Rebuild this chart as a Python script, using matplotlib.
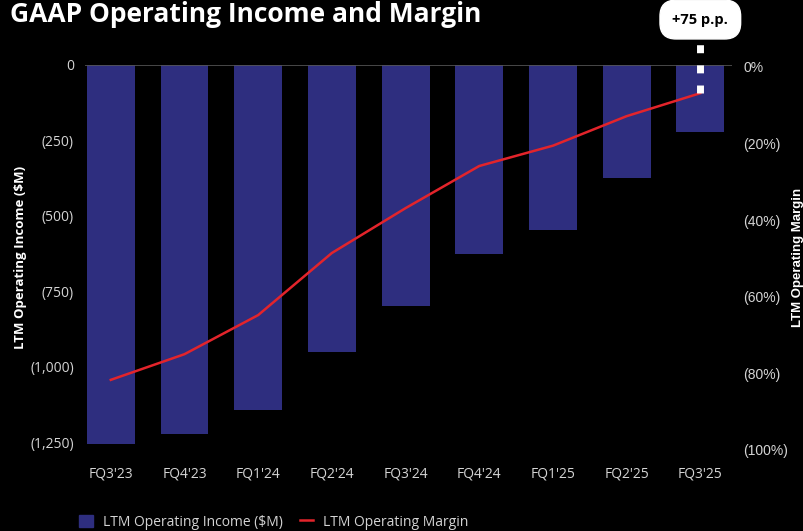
import matplotlib
matplotlib.use('Agg')
import matplotlib.pyplot as plt
from matplotlib.patches import Patch
from matplotlib.lines import Line2D
from matplotlib.ticker import FuncFormatter

plt.rcParams['font.family'] = ['Open Sans', 'DejaVu Sans']

quarters = ["FQ3'23", "FQ4'23", "FQ1'24", "FQ2'24", "FQ3'24", "FQ4'24", "FQ1'25", "FQ2'25", "FQ3'25"]
op_income = [-1254, -1221, -1141, -950, -798, -626, -546, -373, -222]   # $M, LTM
op_margin = [-81.7, -75.0, -64.8, -48.6, -36.9, -25.9, -20.6, -12.9, -6.9]  # %, LTM
margin_gain_label = '+75 p.p.'

navy = '#2e2e7f'
red = '#e3242b'
grey = '#d4d4d4'

fig = plt.figure(figsize=(8.04, 5.31), dpi=100, facecolor='black')
ax = fig.add_axes([85 / 804, 81 / 531, 647 / 804, 385 / 531])
ax.set_facecolor('black')
ax2 = ax.twinx()

x = range(len(quarters))
ax.bar(x, op_income, width=0.65, color=navy, zorder=2)
ax.axhline(0, color='#555555', lw=1.2, zorder=3)
ax.set_xlim(-0.35, 8.43)
ax.set_ylim(-1275, 0)
ax.set_yticks([0, -250, -500, -750, -1000, -1250])
ax.yaxis.set_major_formatter(FuncFormatter(lambda v, p: '0' if v == 0 else f'({abs(v):,.0f})'))
ax.set_xticks(list(x))
ax.set_xticklabels(quarters)
ax.tick_params(axis='both', length=0, colors=grey, labelsize=10)
ax.tick_params(axis='x', pad=12)
ax.tick_params(axis='y', pad=8)
ax.set_ylabel('LTM Operating Income ($M)', color='white', fontsize=9.5, fontweight='bold', labelpad=2)

ax2.plot(x, op_margin, color=red, lw=1.8, zorder=4)
ax2.set_ylim(-100, 0.45)
ax2.set_yticks([0, -20, -40, -60, -80, -100])
ax2.yaxis.set_major_formatter(FuncFormatter(lambda v, p: '0%' if v == 0 else f'({abs(v):.0f}%)'))
ax2.tick_params(axis='y', length=0, colors=grey, labelsize=10, pad=8)
for lbl in ax2.get_yticklabels():
    lbl.set_family(['Liberation Sans', 'DejaVu Sans'])
ax2.set_ylabel('LTM Operating Margin', color='white', fontsize=9.5, fontweight='bold',
               family=['Liberation Sans', 'DejaVu Sans'], labelpad=3)

for a in (ax, ax2):
    for s in a.spines.values():
        s.set_visible(False)

# dashed leader from the latest margin point up to the callout
last = len(quarters) - 1
ax2.plot([last, last], [op_margin[-1], 6.5], color='white', lw=5, dashes=(1.15, 1.75),
         dash_capstyle='butt', clip_on=False, zorder=5)
ax2.annotate(margin_gain_label, xy=(last, 1.118), xycoords=('data', 'axes fraction'),
             ha='center', va='center', fontsize=10.5, fontweight='bold', color='black',
             annotation_clip=False,
             bbox=dict(boxstyle='round,pad=0.85,rounding_size=1.1', fc='white', ec='white'))

fig.text(10 / 804, 1 - 15 / 531, 'GAAP Operating Income and Margin', color='white',
         fontsize=19, fontweight='bold', va='center', ha='left')

handles = [Patch(color=navy, label='LTM Operating Income ($M)'),
           Line2D([], [], color=red, lw=1.8, label='LTM Operating Margin')]
fig.legend(handles=handles, loc='center', bbox_to_anchor=(274 / 804, 9 / 531), ncol=2,
           frameon=False, labelcolor=grey, fontsize=10, handlelength=1.0, handleheight=1.0,
           columnspacing=1.2, handletextpad=0.7)

fig.savefig('out.png', dpi=100, facecolor='black')
